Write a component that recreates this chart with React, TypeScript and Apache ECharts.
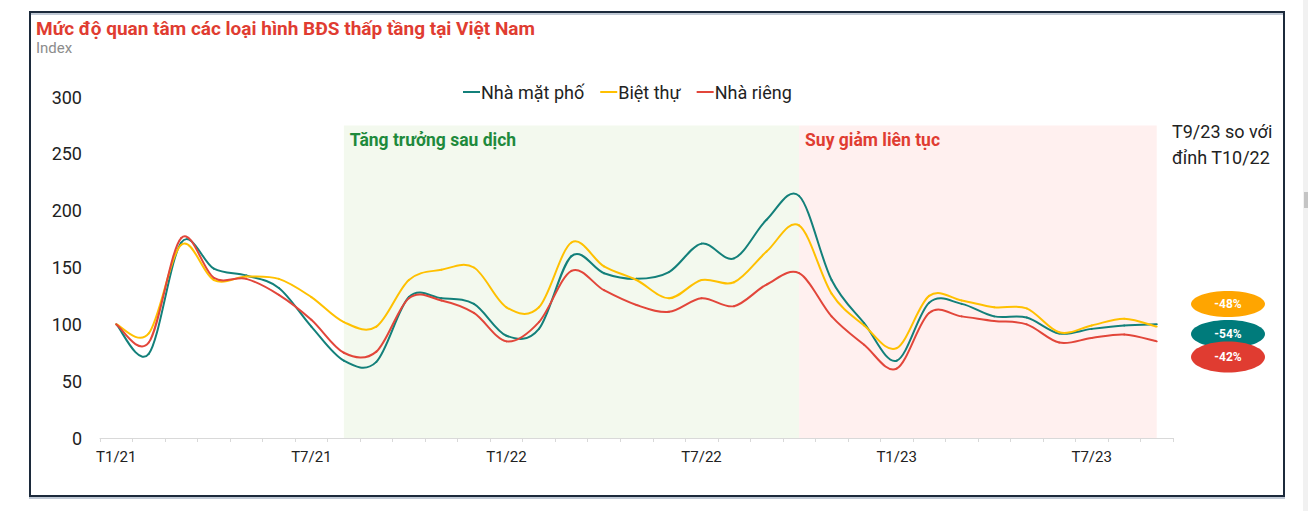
import React, { useEffect, useRef } from "react";
import * as echarts from "echarts";

const categories = [
  "T1/21", "T2/21", "T3/21", "T4/21", "T5/21", "T6/21", "T7/21", "T8/21", "T9/21", "T10/21", "T11/21", "T12/21",
  "T1/22", "T2/22", "T3/22", "T4/22", "T5/22", "T6/22", "T7/22", "T8/22", "T9/22", "T10/22", "T11/22", "T12/22",
  "T1/23", "T2/23", "T3/23", "T4/23", "T5/23", "T6/23", "T7/23", "T8/23", "T9/23",
];

const nhaMatPho = [
  100, 74, 172, 149, 143, 132, 98, 68, 67, 124, 123, 118,
  90, 96, 160, 145, 140, 146, 171, 158, 192, 213, 139, 101,
  68, 119, 118, 107, 106, 92, 96, 99, 100,
];
const bietThu = [
  100, 92, 170, 139, 142, 140, 124, 102, 98, 139, 148, 150,
  115, 115, 172, 151, 139, 123, 139, 137, 164, 187, 127, 99,
  79, 125, 121, 115, 114, 93, 99, 105, 98,
];
const nhaRieng = [
  100, 84, 176, 141, 140, 126, 104, 75, 76, 123, 121, 110,
  85, 102, 147, 130, 117, 111, 123, 116, 135, 145, 107, 82,
  61, 110, 107, 103, 100, 84, 88, 91, 85,
];

const seriesNames = ["Nhà mặt phố", "Biệt thự", "Nhà riêng"];
const seriesColors = ["#13807a", "#ffc000", "#e2463a"];

const yTicks = { min: 0, max: 300, interval: 50 };

const phaseLabels = ["Tăng trưởng sau dịch", "Suy giảm liên tục"];
const phaseRanges = [
  ["T8/21", "T10/22"],
  ["T10/22", "T9/23"],
];
const phaseTop = 275;

const badgeLabels = ["-48%", "-54%", "-42%"];
const badgeColors = ["#ffa500", "#007b7b", "#e03c31"];
const noteLines = ["T9/23 so với", "đỉnh T10/22"];

const FONT = "Roboto, 'Noto Sans', sans-serif";

// Catmull-Rom style smoothing (like spreadsheet "smoothed line"), one bezier per segment
function makeRenderItem(color: string) {
  return (params: any, api: any) => {
    const i = params.dataIndexInside;
    const n = params.dataInsideLength;
    if (i >= n - 1) return null;
    const pt = (k: number) => {
      const kk = Math.max(0, Math.min(n - 1, k));
      return api.coord([api.value(0, kk), api.value(1, kk)]);
    };
    const p0 = pt(i - 1);
    const p1 = pt(i);
    const p2 = pt(i + 1);
    const p3 = pt(i + 2);
    return {
      type: "bezierCurve",
      shape: {
        x1: p1[0],
        y1: p1[1],
        x2: p2[0],
        y2: p2[1],
        cpx1: p1[0] + (p2[0] - p0[0]) / 6,
        cpy1: p1[1] + (p2[1] - p0[1]) / 6,
        cpx2: p2[0] - (p3[0] - p1[0]) / 6,
        cpy2: p2[1] - (p3[1] - p1[1]) / 6,
      },
      style: { stroke: color, lineWidth: 2, fill: "none", lineCap: "round" },
    };
  };
}

export default function App() {
  const ref = useRef<HTMLDivElement>(null);

  useEffect(() => {
    document.body.style.margin = "0";
    if (!ref.current) return;
    const chart = echarts.init(ref.current, undefined, { renderer: "svg" });

    const seriesData = [nhaMatPho, bietThu, nhaRieng];

    const badgeY = [304, 334, 357];
    const badgeRy = [13, 14, 15.5];

    const graphics: any[] = [
      {
        type: "rect",
        shape: { x: 30, y: 12, width: 1254, height: 484 },
        style: { fill: "none", stroke: "#1c2a3a", lineWidth: 2, shadowColor: "rgba(150,165,185,0.6)", shadowOffsetY: 2, shadowBlur: 1 },
        z: 100,
      },
      {
        type: "rect",
        shape: { x: 1303, y: 0, width: 5, height: 511 },
        style: { fill: "#f1f1f1" },
      },
      {
        type: "rect",
        shape: { x: 1304, y: 192, width: 4, height: 16 },
        style: { fill: "#c4c4c4" },
      },
      {
        type: "text",
        left: 1172,
        top: 118,
        style: {
          text: noteLines.join("\n"),
          font: `18px ${FONT}`,
          fill: "#222",
          lineHeight: 26,
        },
      },
    ];
    badgeLabels.forEach((lab, i) => {
      graphics.push({
        type: "ellipse",
        shape: { cx: 1228, cy: badgeY[i], rx: 37, ry: badgeRy[i] },
        style: { fill: badgeColors[i] },
        z: 10 + i * 2,
      });
      graphics.push({
        type: "text",
        x: 1228,
        y: badgeY[i],
        style: {
          text: lab,
          font: `bold 12px ${FONT}`,
          fill: "#fff",
          align: "center",
          verticalAlign: "middle",
        },
        z: 11 + i * 2,
      });
    });

    const phaseSeries = {
      name: "phases",
      type: "line",
      data: [],
      silent: true,
      z: 1,
      markArea: {
        silent: true,
        data: phaseRanges.map((r, k) => [
          {
            xAxis: r[0],
            yAxis: phaseTop,
            itemStyle: { color: k === 0 ? "#f3f9ee" : "#fff0ef" },
            label: {
              show: true,
              position: "insideTopLeft",
              distance: 6,
              formatter: phaseLabels[k],
              color: k === 0 ? "#1e8a3c" : "#e03c31",
              fontSize: 17.5,
              fontWeight: "bold",
              fontFamily: FONT,
            },
          },
          { xAxis: r[1], yAxis: 0 },
        ]),
      },
    };

    const lineSeries = seriesNames.map((name, i) => ({
      name,
      type: "custom",
      renderItem: makeRenderItem(seriesColors[i]),
      data: seriesData[i].map((v, k) => [k, v]),
      encode: { x: 0, y: 1 },
      itemStyle: { color: seriesColors[i] },
      z: 3,
    }));

    const option: any = {
      animation: false,
      backgroundColor: "#fff",
      textStyle: { fontFamily: FONT },
      title: {
        text: "Mức độ quan tâm các loại hình BĐS thấp tầng tại Việt Nam",
        subtext: "Index",
        left: 31,
        top: 14,
        itemGap: 2,
        textStyle: { color: "#e03c31", fontSize: 19, fontWeight: "bold", fontFamily: FONT },
        subtextStyle: { color: "#8c8c8c", fontSize: 15, fontFamily: FONT },
      },
      legend: {
        data: seriesNames,
        left: 458,
        top: 78,
        icon: "rect",
        itemWidth: 17,
        itemHeight: 2,
        itemGap: 16,
        textStyle: { fontSize: 18, color: "#222", fontFamily: FONT, padding: [0, 0, 0, -4] },
      },
      grid: { left: 100, right: 135, top: 97, bottom: 73 },
      xAxis: {
        type: "category",
        data: categories,
        boundaryGap: true,
        axisLine: { lineStyle: { color: "#d9d9d9", width: 1 } },
        axisTick: { show: true, interval: 0, length: 4, lineStyle: { color: "#d9d9d9" } },
        axisLabel: { interval: 5, color: "#222", fontSize: 15, margin: 11, fontFamily: FONT },
        splitLine: { show: false },
      },
      yAxis: {
        type: "value",
        min: yTicks.min,
        max: yTicks.max,
        interval: yTicks.interval,
        axisLine: { show: false },
        axisTick: { show: false },
        splitLine: { show: false },
        axisLabel: { color: "#222", fontSize: 18, margin: 18, fontFamily: FONT },
      },
      series: [phaseSeries, ...lineSeries],
      graphic: graphics,
    };

    chart.setOption(option);
    return () => chart.dispose();
  }, []);

  return <div ref={ref} style={{ width: 1308, height: 511 }} />;
}
